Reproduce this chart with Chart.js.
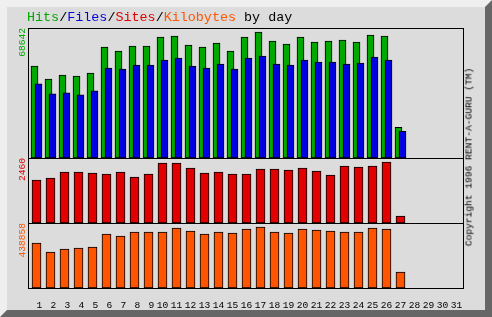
<!DOCTYPE html>
<html>
<head>
<meta charset="utf-8">
<script src="https://cdn.jsdelivr.net/npm/chart.js@4.4.1/dist/chart.umd.min.js"></script>
<style>
  html, body { margin: 0; padding: 0; }
  body { position: relative; width: 492px; height: 317px; overflow: hidden; font-family: 'Liberation Mono', monospace; }
  #frame {
    position: absolute; left: 0; top: 0; width: 492px; height: 317px; box-sizing: border-box;
    border: 7px solid; border-color: #efefef #666 #666 #efefef; background: #dcdcdc;
  }
  #chart { position: absolute; left: 0; top: 0; }
  #title { position: absolute; left: 27px; top: 10px; font-size: 13.4px; line-height: 16px; white-space: pre; color: #000; }
  #copy {
    position: absolute; left: 469px; top: 157px; font-size: 9.6px; line-height: 11px; white-space: pre;
    transform: translate(-50%, -50%) rotate(-90deg); color: #000;
  }
</style>
</head>
<body>
<div id="frame"></div>
<canvas id="chart" width="492" height="317"></canvas>
<div id="title"><span style="color:#00a800">Hits</span>/<span style="color:#0000e0">Files</span>/<span style="color:#e00000">Sites</span>/<span style="color:#ff5500">Kilobytes</span> by day</div>
<div id="copy">Copyright 1996 RENT-A-GURU (TM)</div>
<script>
const dayLabels = [' 1', ' 2', ' 3', ' 4', ' 5', ' 6', ' 7', ' 8', ' 9', '10', '11', '12', '13', '14', '15', '16',
                   '17', '18', '19', '20', '21', '22', '23', '24', '25', '26', '27', '28', '29', '30', '31'];
const hits   = [50075, 42976, 45160, 44614, 46252, 60450, 58266, 60996, 60996, 65912, 66458, 61542, 60450, 62634,
                58266, 65912, 68642, 63727, 62088, 65912, 63181, 63727, 64273, 63181, 67004, 66458, 16765];
const files  = [40411, 34950, 35497, 34404, 36589, 48985, 48439, 50623, 50623, 53354, 54446, 50077, 48985, 51169,
                48439, 54446, 55538, 51169, 50623, 53354, 52261, 52261, 51169, 51715, 54993, 53354, 14581];
const sites  = [1734, 1815, 2057, 2057, 2016, 1976, 2057, 1855, 1976, 2420, 2420, 2218, 2016, 2057,
                1976, 1976, 2178, 2178, 2137, 2218, 2097, 1936, 2299, 2258, 2299, 2460, 282];
const kbytes = [323748, 258998, 280582, 287776, 294970, 388498, 374109, 402886, 402886, 402886, 431664, 410081, 388498, 402886,
                395692, 424470, 438858, 402886, 395692, 424470, 417275, 410081, 402886, 402886, 431664, 424470, 115110];

const green = '#00a800', blue = '#0000e0', red = '#e00000', orange = '#ff5500';
const mono = 'Liberation Mono';

// 14px per day, day 1 centred 8.5px right of the plot edge
const xMin = 1 - 8.5 / 14;
const xMax = xMin + 435 / 14;

function pts(vals, shift) {
  return vals.map((v, i) => ({ x: i + 1 + shift, y: v }));
}

function bars(label, vals, color, axis, shift, thick, order) {
  return {
    label, data: pts(vals, shift), yAxisID: axis, order,
    backgroundColor: color, borderColor: '#000', borderWidth: 1, borderSkipped: false,
    barThickness: thick, grouped: false
  };
}

function yAxis(weight, stackWeight, max, text, color) {
  return {
    type: 'linear', position: 'left', stack: 'day', stackWeight, weight,
    min: 0, max,
    ticks: { display: false },
    grid: { display: false },
    border: { display: false },
    title: { display: true, text, color, align: 'end', font: { family: mono, size: 9.6 }, padding: { top: 16.5, bottom: 0 } },
    afterFit(s) { s.width = 28; }
  };
}

const panelFrame = {
  id: 'panelFrame',
  afterDatasetsDraw(chart) {
    const { ctx, chartArea: a, scales } = chart;
    ctx.save();
    ctx.strokeStyle = '#000';
    ctx.lineWidth = 1;
    ctx.strokeRect(a.left + 0.5, a.top + 0.5, a.right - a.left, a.bottom - a.top);
    ctx.beginPath();
    for (const id of ['ySites', 'yKb']) {
      const y = Math.round(scales[id].top) + 0.5;
      ctx.moveTo(a.left, y);
      ctx.lineTo(a.right + 1, y);
    }
    ctx.stroke();
    ctx.restore();
  }
};

new Chart(document.getElementById('chart'), {
  type: 'bar',
  data: {
    datasets: [
      bars('Hits', hits, green, 'yHits', -2 / 14, 7, 2),
      bars('Files', files, blue, 'yHits', 2 / 14, 7, 1),
      bars('Sites', sites, red, 'ySites', 0, 9, 1),
      bars('Kilobytes', kbytes, orange, 'yKb', 0, 9, 1)
    ]
  },
  options: {
    responsive: false,
    animation: false,
    layout: { padding: { left: 0, right: 29, top: 28, bottom: 0 } },
    plugins: { legend: { display: false }, tooltip: { enabled: false } },
    scales: {
      x: {
        type: 'linear', offset: false, min: xMin, max: xMax,
        grid: { display: false }, border: { display: false },
        afterBuildTicks(s) { s.ticks = dayLabels.map((t, i) => ({ value: i + 1 })); },
        ticks: {
          autoSkip: false, maxRotation: 0, minRotation: 0, padding: 4, color: '#000',
          font: { family: mono, size: 9.6 },
          callback: (v) => dayLabels[v - 1]
        },
        afterFit(s) { s.height = 29; }
      },
      yHits: yAxis(3, 2, Math.max(...hits) * 130 / 126, String(Math.max(...hits)), green),
      ySites: yAxis(2, 1, Math.max(...sites) * 65 / 61, String(Math.max(...sites)), red),
      yKb: yAxis(1, 1, Math.max(...kbytes) * 65 / 61, String(Math.max(...kbytes)), orange)
    }
  },
  plugins: [panelFrame]
});
</script>
</body>
</html>
